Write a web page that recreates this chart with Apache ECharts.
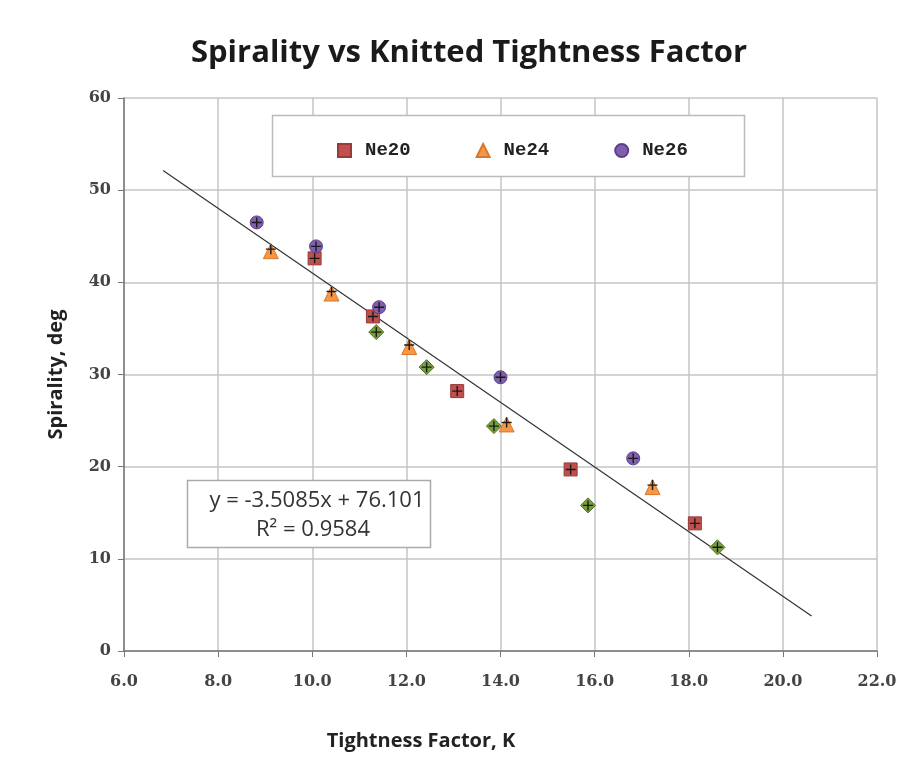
<!DOCTYPE html>
<html>
<head>
<meta charset="utf-8">
<script src="https://cdn.jsdelivr.net/npm/echarts@6/dist/echarts.min.js"></script>
<style>
  body { margin: 0; background: #fff; }
  #chart { width: 908px; height: 765px; }
</style>
</head>
<body>
<div id="chart"></div>
<script>
// data: [tightness factor K, spirality deg]
const ne20 = [[10.05, 42.6], [11.29, 36.3], [13.08, 28.2], [15.49, 19.7], [18.13, 13.85]];
const ne24 = [[9.12, 43.6], [10.41, 39.0], [12.06, 33.2], [14.13, 24.8], [17.23, 18.0]];
const ne26 = [[8.82, 46.5], [10.08, 43.9], [11.42, 37.3], [14.0, 29.7], [16.82, 20.9]];
const ne30 = [[11.36, 34.6], [12.43, 30.8], [13.86, 24.4], [15.86, 15.8], [18.61, 11.25]];

// linear trendline shown in the box
const slope = -3.5085;
const intercept = 76.101;
const trendX = [6.83, 20.61];
const eqText = ['y = -3.5085x + 76.101', 'R\u00b2 = 0.9584'];

const xTicks = { min: 6, max: 22, step: 2 };
const yTicks = { min: 0, max: 60, step: 10 };

const allPoints = ne20.concat(ne24, ne26, ne30);
const trendLine = trendX.map(x => [x, slope * x + intercept]);

const plus = 'path://M4.3,0H5.7V4.3H10V5.7H5.7V10H4.3V5.7H0V4.3H4.3Z';

const myChart = echarts.init(document.getElementById('chart'));

const axisFont = {
    fontFamily: 'DejaVu Serif',
    fontWeight: 'bold',
    fontSize: 16,
    color: '#444'
};

myChart.setOption({
    animation: false,
    title: {
        text: 'Spirality vs Knitted Tightness Factor',
        left: 464,
        top: 33,
        textAlign: 'center',
        textStyle: { fontFamily: 'Open Sans', fontWeight: 'bold', fontSize: 31, color: '#1a1a1a' }
    },
    grid: { left: 124, right: 31, top: 98, bottom: 114 },
    legend: {
        data: ['Ne20', 'Ne24', 'Ne26'],
        left: 332,
        top: 136,
        itemWidth: 13,
        itemHeight: 13,
        itemGap: 65,
        textStyle: {
            fontFamily: 'Liberation Mono', fontWeight: 'bold', fontSize: 19, color: '#222',
            padding: [0, 0, 0, 9]
        }
    },
    xAxis: {
        type: 'value',
        min: xTicks.min,
        max: xTicks.max,
        interval: xTicks.step,
        axisLine: { lineStyle: { color: '#777', width: 1.5 } },
        axisTick: { show: true, length: 6, lineStyle: { color: '#777' } },
        axisLabel: Object.assign({ margin: 23, formatter: v => v.toFixed(1) }, axisFont),
        splitLine: { show: true, lineStyle: { color: '#c4c4c4', width: 1.5 } }
    },
    yAxis: {
        type: 'value',
        min: yTicks.min,
        max: yTicks.max,
        interval: yTicks.step,
        name: 'Spirality, deg',
        nameLocation: 'middle',
        nameGap: 58,
        nameTextStyle: { fontFamily: 'Open Sans', fontWeight: 'bold', fontSize: 20, color: '#222' },
        axisLine: { show: true, lineStyle: { color: '#777', width: 1.5 } },
        axisTick: { show: true, length: 6, lineStyle: { color: '#777' } },
        axisLabel: Object.assign({ margin: 13 }, axisFont),
        splitLine: { show: true, lineStyle: { color: '#c4c4c4', width: 1.5 } }
    },
    graphic: [
        // legend frame
        {
            type: 'rect', z: 1,
            shape: { x: 272.5, y: 115.5, width: 472, height: 61 },
            style: { fill: '#fff', stroke: '#bbb', lineWidth: 1.5 }
        },
        // equation box
        {
            type: 'rect', z: 1,
            shape: { x: 187.5, y: 480.5, width: 243, height: 67 },
            style: { fill: '#fff', stroke: '#aaa', lineWidth: 1.5 }
        },
        {
            type: 'text', z: 2, x: 317, y: 501,
            style: { text: eqText[0], fontFamily: 'Open Sans', fontSize: 22, fill: '#333', align: 'center', verticalAlign: 'middle' }
        },
        {
            type: 'text', z: 2, x: 313, y: 530,
            style: { text: eqText[1], fontFamily: 'Open Sans', fontSize: 22, fill: '#333', align: 'center', verticalAlign: 'middle' }
        },
        // x axis title sits left of centre in the original
        {
            type: 'text', x: 421, y: 741,
            style: { text: 'Tightness Factor, K', fontFamily: 'Open Sans', fontWeight: 'bold', fontSize: 20, fill: '#222', align: 'center', verticalAlign: 'middle' }
        }
    ],
    series: [
        {
            name: 'Trend',
            type: 'line',
            data: trendLine,
            symbol: 'none',
            silent: true,
            lineStyle: { color: '#333', width: 1.2 },
            z: 3
        },
        {
            name: 'Ne30',
            type: 'scatter',
            data: ne30,
            symbol: 'diamond',
            symbolSize: 15,
            itemStyle: { color: '#77a03c', borderColor: '#4f6e25', borderWidth: 1, opacity: 1 },
            z: 4
        },
        {
            name: 'Ne20',
            type: 'scatter',
            data: ne20,
            symbol: 'rect',
            symbolSize: 13,
            itemStyle: { color: '#c0504d', borderColor: '#983a38', borderWidth: 1, opacity: 1 },
            z: 4
        },
        {
            name: 'Ne24',
            type: 'scatter',
            data: ne24,
            symbol: 'triangle',
            symbolSize: 15,
            symbolOffset: [0, 2],
            itemStyle: { color: '#f79646', borderColor: '#d9782b', borderWidth: 1, opacity: 1 },
            z: 4
        },
        {
            name: 'Ne26',
            type: 'scatter',
            data: ne26,
            symbol: 'circle',
            symbolSize: 13,
            itemStyle: { color: '#7f5fae', borderColor: '#5b3f88', borderWidth: 1, opacity: 1 },
            z: 4
        },
        {
            // every point also carries a black "+" marker (combined series)
            name: 'All',
            type: 'scatter',
            data: allPoints,
            symbol: plus,
            symbolSize: 10,
            silent: true,
            itemStyle: { color: '#1a1a1a', opacity: 1 },
            z: 5
        }
    ]
});
</script>
</body>
</html>
